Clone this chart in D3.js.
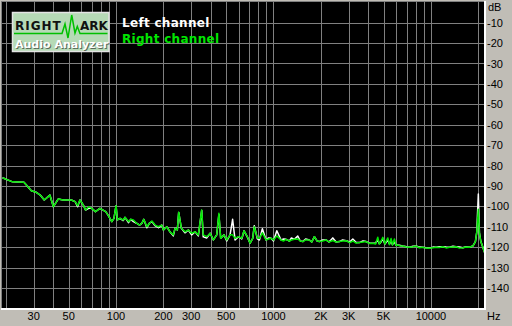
<!DOCTYPE html>
<html>
<head>
<meta charset="utf-8">
<script src="https://cdn.jsdelivr.net/npm/d3@7"></script>
<style>
  body { margin: 0; background: #c0bdb6; }
  svg { display: block; }
</style>
</head>
<body>
<div id="chart"></div>
<script>
/* Data */
const freqs = [19, 22, 26, 29, 31, 33, 35, 38, 40, 43, 46, 52, 55, 57, 59, 62, 64, 67, 70, 74,
  79, 86, 89, 94, 97, 100, 102, 106, 111, 114, 120, 124, 129, 135, 141, 146, 150, 157, 163, 169,
  177, 186, 195, 200, 210, 220, 231, 237, 245, 250, 260, 274, 288, 302, 318, 333, 350, 358, 377, 396,
  415, 436, 450, 462, 485, 505, 530, 550, 570, 599, 629, 650, 682, 710, 738, 755, 790, 814, 850, 897,
  930, 965, 1000, 1050, 1117, 1160, 1202, 1262, 1300, 1357, 1426, 1480, 1535, 1600, 1691, 1750, 1819, 1890, 1957, 2050,
  2158, 2250, 2380, 2500, 2622, 2750, 2892, 3050, 3190, 3350, 3513, 3700, 3875, 4050, 4274, 4450, 4598, 4700, 4755, 4948,
  5100, 5322, 5450, 5585, 5700, 5862, 6000, 6162, 6400, 6626, 7000, 7300, 7700, 8050, 8450, 8879, 9300, 9781, 10300, 10788,
  11300, 11900, 12500, 13107, 13800, 14455, 15200, 15944, 16700, 17558, 18451, 19165, 19561, 20000, 20325, 20750, 21366, 22000];

const leftDb = [-86, -88, -88.2, -92.4, -93.1, -94.5, -96.9, -94.5, -100.2, -96.4, -96.9, -96.9, -97.7, -100.2, -96.9, -99.4, -101.8, -101, -101, -102.6,
  -101, -102.6, -104.3, -107.5, -105.9, -99.7, -106.7, -105.9, -107, -105.4, -108, -106.4, -107.5, -108.3, -109.2, -108.3, -106.4, -110.5, -108.3, -107.5,
  -109.5, -110.5, -109.2, -111.6, -110, -112.5, -114.5, -110.8, -111.6, -103, -110.8, -113, -111.6, -114, -112.5, -114.5, -102, -115, -115.5, -113.2,
  -116.5, -114, -104, -115.7, -114, -117, -114, -106.4, -116.5, -114.9, -116, -112, -115, -118.1, -115.7, -109.5, -116, -116.5, -111, -116.5,
  -115.5, -115.7, -117, -112, -116.5, -116, -116.2, -117, -115.5, -116.2, -114.6, -117, -117.3, -116, -116.5, -117.5, -114.9, -117, -117.3, -116.5,
  -116.5, -117.5, -115.5, -117.5, -117.3, -116.5, -116.9, -117.5, -116, -117.8, -117.8, -117, -117.3, -118, -118.1, -118, -116.5, -118.3, -118.1, -116,
  -118.5, -116.5, -118.5, -117, -118.8, -117.5, -119, -119, -119.2, -119.5, -119.8, -120.1, -119.6, -119.5, -120, -120.1, -120.3, -120.6, -120, -120.1,
  -119.8, -119.8, -120, -120.1, -119.6, -119.8, -120, -120.3, -119.8, -120.1, -119.5, -117.3, -112.5, -94, -113.2, -117.3, -120.1, -123];

const rightDb = [-86, -88, -88.2, -92.4, -93.1, -94.5, -96.9, -94.5, -100.2, -96.4, -96.9, -96.9, -97.7, -99.7, -96.9, -99.4, -101.8, -100.2, -101, -102.6,
  -101, -102.6, -104.3, -107.5, -105.9, -99.7, -106.7, -105.9, -106.7, -105.4, -107.5, -106.4, -106.7, -108.3, -109.2, -108.3, -106.4, -110, -108.3, -107.2,
  -109.2, -110, -109.2, -111.6, -110, -112.5, -114, -110.8, -111.6, -102.9, -110.8, -112.5, -111.6, -113.2, -112.5, -114, -101.8, -114, -114.9, -113.2,
  -116.5, -114, -103.4, -115.7, -114, -116.5, -114, -114, -115.7, -114.9, -115.7, -112, -114.9, -118.1, -115.7, -110, -115.5, -115.7, -113, -116.5,
  -116, -115.7, -116.5, -114.5, -116.5, -117, -116.2, -117, -116.5, -116.2, -116, -117, -117.3, -116.5, -116.5, -117.5, -114.9, -117, -117.3, -117,
  -116.5, -117.5, -116.8, -117.5, -117.3, -117, -116.9, -117.8, -117, -118, -117.8, -117.5, -117.3, -118.2, -118.1, -118.5, -115.2, -118.5, -118.1, -115.2,
  -118.5, -115.5, -118.8, -115.8, -119, -116, -119.2, -119, -119.5, -119.5, -120, -120.1, -119.8, -119.5, -120.3, -120.1, -120.5, -120.6, -120.3, -120.1,
  -120.2, -119.8, -120.4, -120.1, -119.9, -119.8, -120.5, -120.3, -120, -120.1, -119.5, -117.3, -112.5, -101.5, -113.2, -117.3, -120.1, -123];

const gridFreqs = [20, 30, 40, 50, 60, 70, 80, 90, 100, 200, 300, 400, 500, 600, 700, 800, 900,
  1000, 2000, 3000, 4000, 5000, 6000, 7000, 8000, 9000, 10000, 20000];
const labelFreqs = [30, 50, 100, 200, 300, 500, 1000, 2000, 3000, 5000, 10000];
const labelTexts = ["30", "50", "100", "200", "300", "500", "1000", "2K", "3K", "5K", "10000"];
const dbTicks = [-10, -20, -30, -40, -50, -60, -70, -80, -90, -100, -110, -120, -130, -140];

const seriesNames = ["Left channel", "Right channel"];
const seriesColors = ["#ffffff", "#00e600"];

/* Chart */
const width = 512, height = 326;
const plotL = 2, plotT = 2, plotR = 484, plotB = 308;

const svg = d3.select("#chart").append("svg")
  .attr("width", width)
  .attr("height", height);

const x = d3.scaleLog().domain([20, 22050]).range([6, 485]);
const y = d3.scaleLinear().domain([0, -150]).range([2.3, 308.3]);

svg.append("rect")
  .attr("x", plotL).attr("y", plotT)
  .attr("width", plotR - plotL).attr("height", plotB - plotT)
  .attr("fill", "#000");

svg.append("clipPath").attr("id", "plot")
  .append("rect")
  .attr("x", plotL).attr("y", plotT)
  .attr("width", plotR - plotL).attr("height", plotB - plotT);

// grid
const grid = svg.append("g")
  .attr("stroke", "#808080")
  .attr("stroke-width", 1)
  .attr("shape-rendering", "crispEdges");

grid.selectAll(".vx")
  .data(gridFreqs)
  .enter()
  .append("line")
  .attr("x1", d => Math.round(x(d)) + 0.5)
  .attr("x2", d => Math.round(x(d)) + 0.5)
  .attr("y1", plotT)
  .attr("y2", plotB);

grid.selectAll(".hy")
  .data(dbTicks)
  .enter()
  .append("line")
  .attr("x1", plotL)
  .attr("x2", plotR)
  .attr("y1", d => Math.round(y(d)) + 0.5)
  .attr("y2", d => Math.round(y(d)) + 0.5);

// frame: dark top/left, white bottom/right
svg.append("rect").attr("x", 1).attr("y", 1).attr("width", plotR).attr("height", 1).attr("fill", "#808080");
svg.append("rect").attr("x", 1).attr("y", 1).attr("width", 1).attr("height", plotB).attr("fill", "#808080");
svg.append("rect").attr("x", 1).attr("y", plotB).attr("width", plotR + 1).attr("height", 2).attr("fill", "#ffffff");
svg.append("rect").attr("x", plotR).attr("y", 1).attr("width", 2).attr("height", plotB + 1).attr("fill", "#ffffff");

// curves
const line = d3.line()
  .x((d, i) => x(freqs[i]))
  .y(d => y(d));

const curves = svg.append("g").attr("clip-path", "url(#plot)");
[leftDb, rightDb].forEach((vals, k) => {
  curves.append("path")
    .datum(vals)
    .attr("fill", "none")
    .attr("stroke", seriesColors[k])
    .attr("stroke-width", 1.5)
    .attr("stroke-linejoin", "round")
    .attr("d", line);
});

// axis labels
const labelFont = "'Liberation Sans', Arial, sans-serif";

svg.selectAll(".ylab")
  .data(dbTicks)
  .enter()
  .append("text")
  .attr("x", 487)
  .attr("y", d => y(d) + 4)
  .attr("font-family", labelFont)
  .attr("font-size", "11px")
  .attr("fill", "#000")
  .text(d => d);

svg.append("text")
  .attr("x", 488).attr("y", 11)
  .attr("font-family", labelFont).attr("font-size", "11px")
  .text("dB");

svg.selectAll(".xlab")
  .data(labelFreqs)
  .enter()
  .append("text")
  .attr("x", d => x(d))
  .attr("y", 319.5)
  .attr("text-anchor", "middle")
  .attr("font-family", labelFont)
  .attr("font-size", "11px")
  .attr("fill", "#000")
  .text((d, i) => labelTexts[i]);

svg.append("text")
  .attr("x", 487).attr("y", 320)
  .attr("font-family", labelFont).attr("font-size", "11px")
  .text("Hz");

/* Legend */
const legendFont = "'DejaVu Sans', Verdana, sans-serif";
seriesNames.forEach((name, i) => {
  svg.append("text")
    .attr("x", 122)
    .attr("y", 26.5 + i * 16.5)
    .attr("font-family", legendFont)
    .attr("font-weight", "bold")
    .attr("font-size", "12px")
    .attr("letter-spacing", "0.3px")
    .attr("fill", seriesColors[i])
    .text(name);
});

/* Logo */
const logo = svg.append("g");
logo.append("rect")
  .attr("x", 12.5).attr("y", 12.5)
  .attr("width", 96.5).attr("height", 39)
  .attr("fill", "#b6dab6")
  .attr("stroke", "#e4e4e4")
  .attr("stroke-width", 1.5);

logo.append("path")
  .attr("d", "M14,33.5 L62,33.5 L65,24 L68,38 L71.7,15 L75,33 L77.3,26.5 L80,33.5 L107.5,33.5")
  .attr("fill", "none")
  .attr("stroke", "#00c000")
  .attr("stroke-width", 1.5);

logo.append("text")
  .attr("x", 15).attr("y", 30)
  .attr("font-family", legendFont).attr("font-weight", "bold")
  .attr("font-size", "12px").attr("letter-spacing", "1px")
  .attr("fill", "#111")
  .text("RIGHT");

logo.append("text")
  .attr("x", 80).attr("y", 30)
  .attr("font-family", legendFont).attr("font-weight", "bold")
  .attr("font-size", "12px")
  .attr("fill", "#111")
  .text("ARK");

logo.append("text")
  .attr("x", 16).attr("y", 48.5)
  .attr("font-family", legendFont).attr("font-weight", "bold")
  .attr("font-size", "11px")
  .attr("fill", "#5a6a5a")
  .text("Audio Analyzer");

logo.append("text")
  .attr("x", 15).attr("y", 47.5)
  .attr("font-family", legendFont).attr("font-weight", "bold")
  .attr("font-size", "11px")
  .attr("fill", "#ffffff")
  .text("Audio Analyzer");
</script>
</body>
</html>
